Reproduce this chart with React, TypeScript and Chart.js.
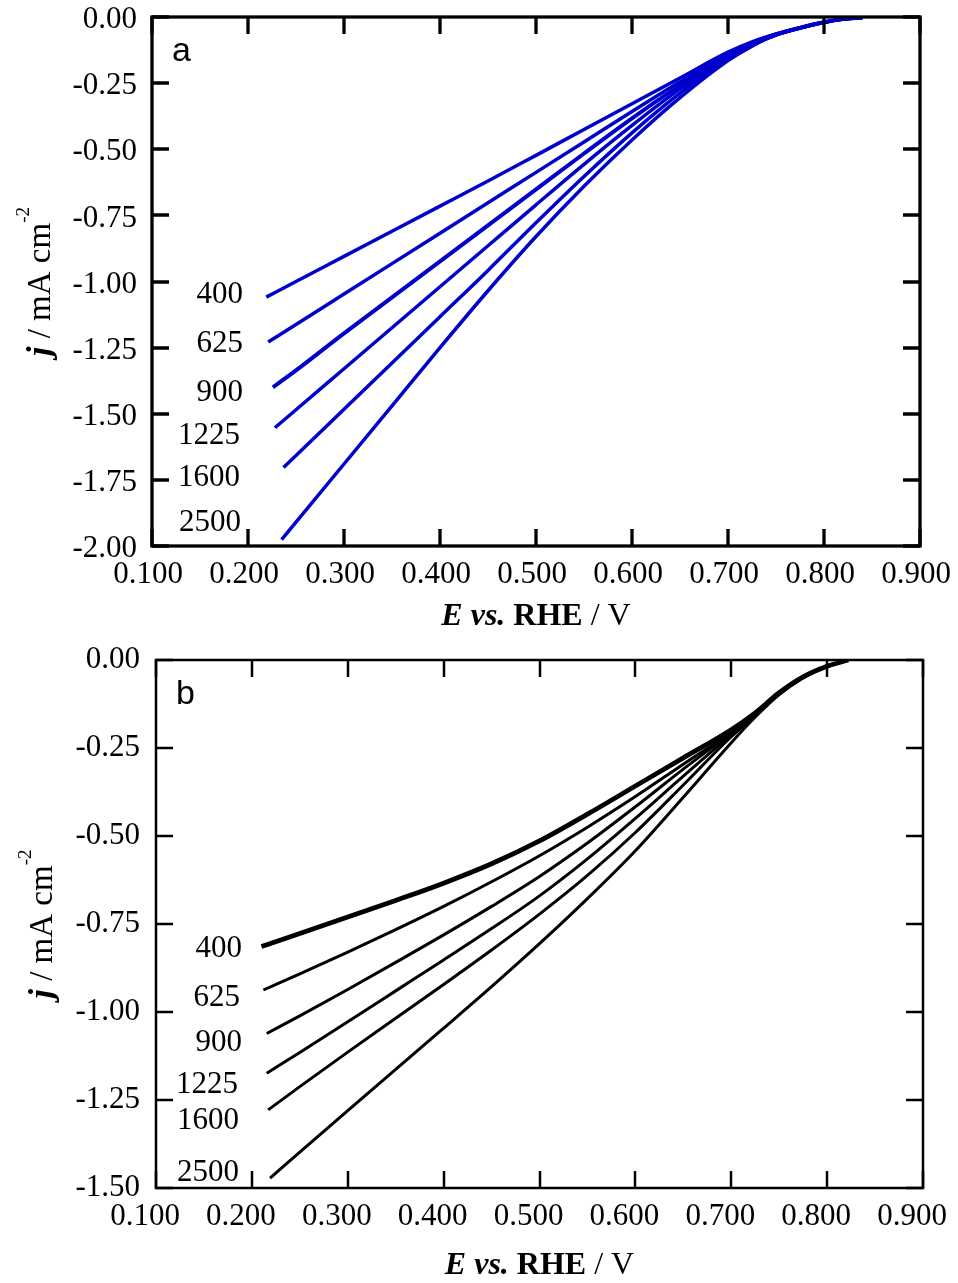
import React, { useEffect, useRef } from "react";
import { Chart, registerables } from "chart.js";
Chart.register(...registerables);

// Rotation speeds (rpm) labelling each curve
const SPEEDS = ["400", "625", "900", "1225", "1600", "2500"];

// ---------- Panel a (blue) ----------
const E_GRID_A = [0.25, 0.30, 0.35, 0.40, 0.45, 0.50, 0.55, 0.60, 0.65, 0.70, 0.725, 0.75, 0.775, 0.80, 0.82, 0.84];
const E_START_A = [0.219, 0.221, 0.226, 0.228, 0.237, 0.235];
const J_A_400 = [-1.059, -1.000, -0.905, -0.810, -0.715, -0.620, -0.523, -0.4255, -0.328, -0.2305, -0.133, -0.094, -0.064, -0.040, -0.020, -0.008, -0.002];
const J_A_625 = [-1.229, -1.1625, -1.0475, -0.9325, -0.8175, -0.7025, -0.5875, -0.4725, -0.3575, -0.245, -0.140, -0.097, -0.065, -0.041, -0.020, -0.008, -0.002];
const J_A_900 = [-1.400, -1.336, -1.196, -1.060, -0.924, -0.788, -0.652, -0.516, -0.383, -0.2585, -0.146, -0.100, -0.066, -0.041, -0.020, -0.008, -0.002];
const J_A_1225 = [-1.553, -1.485, -1.330, -1.175, -1.020, -0.865, -0.710, -0.557, -0.410, -0.272, -0.152, -0.103, -0.067, -0.041, -0.020, -0.008, -0.002];
const J_A_1600 = [-1.703, -1.658, -1.483, -1.308, -1.133, -0.958, -0.778, -0.603, -0.438, -0.288, -0.158, -0.106, -0.068, -0.042, -0.020, -0.008, -0.002];
const J_A_2500 = [-1.976, -1.910, -1.690, -1.470, -1.250, -1.035, -0.830, -0.640, -0.465, -0.305, -0.165, -0.110, -0.0675, -0.042, -0.020, -0.008, -0.002];
const LABEL_E_A = [0.1948, 0.1948, 0.1948, 0.1917, 0.1917, 0.1927];
const LABEL_J_A = [-1.043, -1.229, -1.414, -1.577, -1.735, -1.905];

// ---------- Panel b (black) ----------
const E_GRID_B = [0.25, 0.30, 0.35, 0.40, 0.45, 0.50, 0.55, 0.60, 0.65, 0.70, 0.725, 0.75, 0.775, 0.80, 0.822];
const E_START_B = [0.210, 0.212, 0.2155, 0.2155, 0.217, 0.219];
const J_B_400 = [-0.814, -0.777, -0.730, -0.683, -0.634, -0.579, -0.514, -0.438, -0.358, -0.278, -0.198, -0.150, -0.093, -0.048, -0.018, 0.0];
const J_B_625 = [-0.9375, -0.892, -0.830, -0.766, -0.700, -0.630, -0.556, -0.475, -0.388, -0.296, -0.205, -0.152, -0.094, -0.048, -0.018, 0.0];
const J_B_900 = [-1.061, -1.011, -0.936, -0.859, -0.781, -0.700, -0.615, -0.520, -0.417, -0.310, -0.207, -0.154, -0.095, -0.049, -0.018, 0.0];
const J_B_1225 = [-1.174, -1.115, -1.028, -0.940, -0.852, -0.763, -0.670, -0.565, -0.450, -0.330, -0.212, -0.156, -0.096, -0.049, -0.018, 0.0];
const J_B_1600 = [-1.278, -1.212, -1.114, -1.018, -0.922, -0.824, -0.722, -0.612, -0.490, -0.355, -0.218, -0.158, -0.097, -0.050, -0.018, 0.0];
const J_B_2500 = [-1.472, -1.398, -1.280, -1.163, -1.046, -0.928, -0.806, -0.678, -0.542, -0.390, -0.235, -0.162, -0.098, -0.050, -0.018, 0.0];
const LABEL_E_B = [0.1897, 0.1876, 0.1897, 0.1855, 0.1866, 0.1866];
const LABEL_J_B = [-0.815, -0.955, -1.082, -1.202, -1.304, -1.452];

const SERIF = "'Liberation Serif', 'Times New Roman', serif";
const SANS = "'Liberation Sans', Arial, sans-serif";

function buildSeries(start: number, grid: number[], j: number[]) {
  const pts = [{ x: start, y: j[0] }];
  grid.forEach((e, i) => pts.push({ x: e, y: j[i + 1] }));
  return pts;
}

type Spec = {
  height: number;
  left: number;
  top: number;
  right: number;
  bottom: number;
  yMin: number;
  color: string;
  widths: number[];
  starts: number[];
  grid: number[];
  series: number[][];
  labelE: number[];
  labelJ: number[];
  panel: string;
  frameWidth: number;
  yLabelOffset: number;
  xLabelOffset: number;
  yPad: number;
  titleBaseline: number;
  yTitleX: number;
};

function drawRich(ctx: CanvasRenderingContext2D, parts: { t: string; f: string; dy?: number }[], x: number, y: number) {
  let total = 0;
  parts.forEach((p) => {
    ctx.font = p.f;
    total += ctx.measureText(p.t).width;
  });
  let cx = x - total / 2;
  parts.forEach((p) => {
    ctx.font = p.f;
    ctx.fillText(p.t, cx, y + (p.dy || 0));
    cx += ctx.measureText(p.t).width;
  });
}

function makePlugin(spec: Spec) {
  return {
    id: "frameDecor",
    afterDatasetsDraw(chart: any) {
      const { ctx, chartArea: a, scales } = chart;
      const xs = scales.x;
      const ys = scales.y;
      const tl = 17;
      ctx.save();
      ctx.strokeStyle = "#000";
      ctx.lineWidth = spec.frameWidth;
      ctx.lineCap = "butt";
      ctx.strokeRect(a.left, a.top, a.right - a.left, a.bottom - a.top);
      ctx.beginPath();
      xs.ticks.forEach((t: any) => {
        const px = Math.round(xs.getPixelForValue(t.value));
        ctx.moveTo(px, a.bottom);
        ctx.lineTo(px, a.bottom - tl);
        ctx.moveTo(px, a.top);
        ctx.lineTo(px, a.top + tl);
      });
      ys.ticks.forEach((t: any) => {
        const py = Math.round(ys.getPixelForValue(t.value));
        ctx.moveTo(a.left, py);
        ctx.lineTo(a.left + tl, py);
        ctx.moveTo(a.right, py);
        ctx.lineTo(a.right - tl, py);
      });
      ctx.stroke();

      ctx.fillStyle = "#000";
      // curve labels
      ctx.font = `31px ${SERIF}`;
      ctx.textAlign = "right";
      ctx.textBaseline = "alphabetic";
      SPEEDS.forEach((s, i) => {
        const px = xs.getPixelForValue(spec.labelE[i]);
        const py = ys.getPixelForValue(spec.labelJ[i]);
        ctx.fillText(s, px, py + 10);
      });

      // panel letter
      ctx.font = `34px ${SANS}`;
      ctx.textAlign = "left";
      ctx.fillText(spec.panel, a.left + 20, a.top + 44);

      // x title
      const cx = (a.left + a.right) / 2;
      drawRich(
        ctx,
        [
          { t: "E vs.", f: `bold italic 32px ${SERIF}` },
          { t: " RHE", f: `bold 32px ${SERIF}` },
          { t: " / V", f: `32px ${SERIF}` },
        ],
        cx,
        spec.titleBaseline
      );

      // y title (rotated)
      ctx.save();
      ctx.translate(spec.yTitleX, (a.top + a.bottom) / 2);
      ctx.rotate(-Math.PI / 2);
      drawRich(
        ctx,
        [
          { t: "j", f: `bold italic 34px ${SERIF}` },
          { t: " / mA cm", f: `33px ${SERIF}` },
          { t: "-2", f: `19px ${SERIF}`, dy: -21 },
        ],
        0,
        0
      );
      ctx.restore();
      ctx.restore();
    },
  };
}

function makeChart(canvas: HTMLCanvasElement, spec: Spec) {
  const datasets = spec.series.map((j, i) => ({
    label: SPEEDS[i],
    data: buildSeries(spec.starts[i], spec.grid, j),
    borderColor: spec.color,
    backgroundColor: spec.color,
    borderWidth: spec.widths[i],
    pointRadius: 0,
    showLine: true,
    fill: false,
    cubicInterpolationMode: "monotone" as const,
  }));
  return new Chart(canvas, {
    type: "scatter",
    data: { datasets },
    options: {
      responsive: false,
      animation: false,
      devicePixelRatio: 1,
      layout: {
        padding: { left: 0, top: spec.top, right: 958 - spec.right, bottom: 0 },
      },
      plugins: { legend: { display: false }, tooltip: { enabled: false } },
      scales: {
        x: {
          type: "linear",
          min: 0.1,
          max: 0.9,
          grid: { display: false, drawTicks: false },
          border: { display: false },
          ticks: {
            stepSize: 0.1,
            autoSkip: false,
            maxRotation: 0,
            padding: 10,
            labelOffset: spec.xLabelOffset,
            color: "#000",
            font: { family: SERIF, size: 31 },
            callback: (v: any) => Number(v).toFixed(3),
          },
          afterFit: (s: any) => {
            s.height = spec.height - spec.bottom;
            s.paddingLeft = 0;
            s.paddingRight = 0;
          },
        },
        y: {
          type: "linear",
          min: spec.yMin,
          max: 0,
          grid: { display: false, drawTicks: false },
          border: { display: false },
          ticks: {
            stepSize: 0.25,
            autoSkip: false,
            padding: spec.yPad,
            labelOffset: spec.yLabelOffset,
            color: "#000",
            font: { family: SERIF, size: 31 },
            callback: (v: any) => {
              const n = Math.abs(Number(v)) < 1e-9 ? 0 : Number(v);
              return n.toFixed(2);
            },
          },
          afterFit: (s: any) => {
            s.width = spec.left;
            s.paddingTop = 0;
            s.paddingBottom = 0;
          },
        },
      },
    },
    plugins: [makePlugin(spec)],
  } as any);
}

const SPEC_A: Spec = {
  height: 640,
  left: 152,
  top: 17,
  right: 920,
  bottom: 546,
  yMin: -2,
  color: "#0000CD",
  widths: [3.5, 3.5, 4, 3.5, 3.5, 3.5],
  starts: E_START_A,
  grid: E_GRID_A,
  series: [J_A_400, J_A_625, J_A_900, J_A_1225, J_A_1600, J_A_2500],
  labelE: LABEL_E_A,
  labelJ: LABEL_J_A,
  panel: "a",
  frameWidth: 3.3,
  yLabelOffset: 3,
  xLabelOffset: -4,
  yPad: 15,
  titleBaseline: 625,
  yTitleX: 50,
};

const SPEC_B: Spec = {
  height: 643,
  left: 156,
  top: 20,
  right: 923,
  bottom: 548,
  yMin: -1.5,
  color: "#000000",
  widths: [4.8, 3, 3, 3, 3, 3],
  starts: E_START_B,
  grid: E_GRID_B,
  series: [J_B_400, J_B_625, J_B_900, J_B_1225, J_B_1600, J_B_2500],
  labelE: LABEL_E_B,
  labelJ: LABEL_J_B,
  panel: "b",
  frameWidth: 2.5,
  yLabelOffset: 0,
  xLabelOffset: -11,
  yPad: 16,
  titleBaseline: 634,
  yTitleX: 52,
};

function Panel({ spec, top }: { spec: Spec; top: number }) {
  const ref = useRef<HTMLCanvasElement | null>(null);
  useEffect(() => {
    if (!ref.current) return;
    const chart = makeChart(ref.current, spec);
    return () => chart.destroy();
  }, [spec]);
  return (
    <canvas
      ref={ref}
      width={958}
      height={spec.height}
      style={{ position: "absolute", left: 0, top, width: 958, height: spec.height }}
    />
  );
}

export default function App() {
  return (
    <div style={{ position: "absolute", left: 0, top: 0, width: 958, height: 1283, background: "#fff" }}>
      <Panel spec={SPEC_A} top={0} />
      <Panel spec={SPEC_B} top={640} />
    </div>
  );
}
